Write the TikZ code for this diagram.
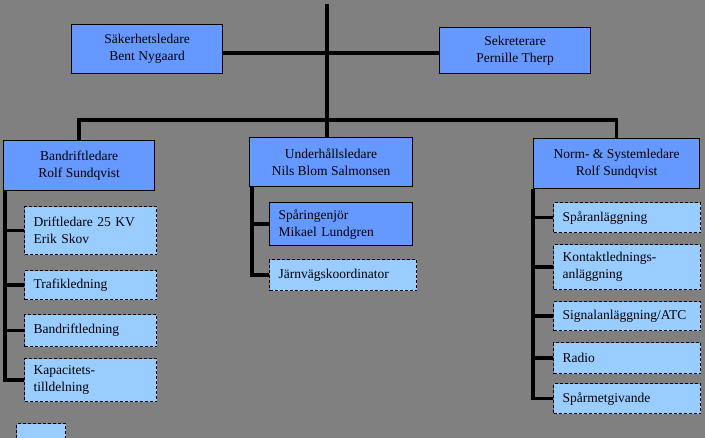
\documentclass[tikz,border=0pt]{standalone}
\usepackage{fontspec}
\setmainfont{Liberation Serif}
\definecolor{bgGray}{HTML}{808080}
\definecolor{midBlue}{HTML}{6699FF}
\definecolor{lightBlue}{HTML}{99CCFF}
\begin{document}
\begin{tikzpicture}
[x=1pt,y=-1pt,
  headDecorate/.style={draw,fill=midBlue,line width=1.2pt,anchor=north west,
    inner sep=0pt,align=center,font=\fontsize{13.5}{17}\selectfont},
  unitDecorate/.style={draw,fill=lightBlue,line width=1.2pt,dash pattern=on 3pt off 2pt,
    anchor=north west,inner xsep=9pt,inner ysep=0pt,align=left,
    font=\fontsize{13.5}{17}\selectfont},
  lineDecorate/.style={line width=3.5pt}]
\fill[bgGray] (0,0) rectangle (705,438);
\useasboundingbox (0,0) rectangle (705,438);
%% heads
\node (sak) at (71,24) [headDecorate,minimum width=151pt,minimum height=49pt]
  {Säkerhetsledare\\Bent Nygaard};
\node (sek) at (439,27) [headDecorate,minimum width=151pt,minimum height=46pt]
  {Sekreterare\\Pernille Therp};
\node (band) at (3,140) [headDecorate,minimum width=151pt,minimum height=50pt]
  {Bandriftledare\\Rolf Sundqvist};
\node (und) at (249,137) [headDecorate,minimum width=163pt,minimum height=49pt]
  {Underhållsledare\\Nils Blom Salmonsen};
\node (norm) at (533,138) [headDecorate,minimum width=166pt,minimum height=50pt]
  {Norm- \& Systemledare\\Rolf Sundqvist};
\node (sparing) at (269,202) [headDecorate,align=left,inner xsep=9pt,
  minimum width=143pt,minimum height=43pt,text width=125pt]
  {Spåringenjör\\Mikael Lundgren};
%% units
\foreach \nodename/\y/\h/\txt in {
  drift/206/48/{Driftledare 25 KV\\Erik Skov}, trafik/270/29/Trafikledning,
  bandled/314/32/Bandriftledning, kapac/358/43/{Kapacitets-\\tilldelning}}
{
  \node (\nodename) at (24,\y) [unitDecorate,minimum width=132pt,
    minimum height=\h pt,text width=114pt] {\txt};
}
\node (jarnv) at (269,259) [unitDecorate,minimum width=147pt,
  minimum height=31pt,text width=129pt] {Järnvägskoordinator};
\foreach \nodename/\y/\h/\txt in {
  spar/202/30/Spåranläggning, kontakt/244/45/{Kontaktlednings-\\anläggning},
  signal/301/29/{Signalanläggning/ATC}, radio/342/31/Radio,
  sparmet/383/30/Spårmetgivande}
{
  \node (\nodename) at (553,\y) [unitDecorate,minimum width=147pt,
    minimum height=\h pt,text width=129pt] {\txt};
}
\node (legend) at (16,423) [unitDecorate,minimum width=49pt,minimum height=16pt] {};
%% lines
\coordinate (top) at (327,4);
\coordinate (hub) at (327,53);
\coordinate (bus) at (327,120);
\draw[lineDecorate] (top) -- (top |- und.north);
\draw[lineDecorate] (sak.east |- hub) -- (sek.west |- hub);
\draw[lineDecorate] (band.north) |- (bus) -| (norm.north);
\coordinate (spineL) at ([xshift=2pt]band.south west);
\coordinate (spineM) at ([xshift=3pt]und.south west);
\coordinate (spineR) at (norm.south west);
\draw[lineDecorate] (spineL) |- (kapac.west);
\draw[lineDecorate] (spineM) |- (jarnv.west);
\draw[lineDecorate] (spineR) |- (sparmet.west);
\path
\foreach \spine/\endnode in {
  spineL/drift, spineL/trafik, spineL/bandled, spineM/sparing,
  spineR/spar, spineR/kontakt, spineR/signal, spineR/radio}
{
  (\spine |- \endnode.west) edge[lineDecorate] (\endnode.west)
};
\end{tikzpicture}
\end{document}
